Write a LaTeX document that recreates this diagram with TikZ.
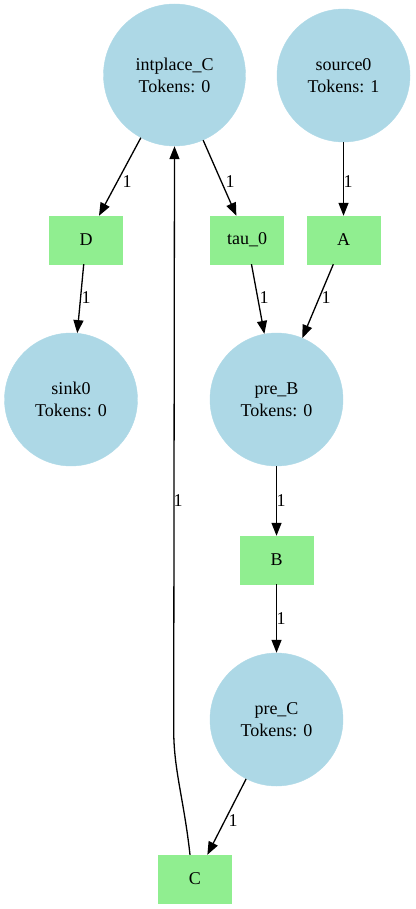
\documentclass[tikz,border=0pt]{standalone}
\usepackage{fontspec}
\setmainfont{Liberation Serif}
\usetikzlibrary{arrows.meta}
\definecolor{placeblue}{HTML}{ADD8E6}
\definecolor{transgreen}{HTML}{90EE90}
\begin{document}
\begin{tikzpicture}[x=1pt,y=-1pt,
  place/.style={circle,fill=placeblue,draw=placeblue,minimum size=133pt,inner sep=0pt,align=center,font=\fontsize{18}{22}\selectfont},
  bigplace/.style={place,minimum size=142pt},
  trans/.style={rectangle,fill=transgreen,draw=transgreen,minimum width=73pt,minimum height=48pt,inner sep=0pt,font=\fontsize{18}{22}\selectfont},
  arc/.style={line width=1.3pt,-{Triangle[length=13pt,width=10pt]}},
  wlabel/.style={font=\fontsize{18}{22}\selectfont,inner sep=0pt}]
\useasboundingbox (0,0) rectangle (415,909);
\node[bigplace] (ic) at (174.5,75) {intplace\_C\\Tokens: 0};
\node[place] (src) at (343.5,75.5) {source0\\Tokens: 1};
\node[place] (sink) at (71,399.5) {sink0\\Tokens: 0};
\node[place] (preB) at (276.5,399.5) {pre\_B\\Tokens: 0};
\node[place] (preC) at (276.5,719.5) {pre\_C\\Tokens: 0};
\node[trans] (D) at (86,240) {D};
\node[trans] (tau) at (247,240) {tau\_0};
\node[trans] (A) at (343.5,240) {A};
\node[trans] (B) at (276.5,560) {B};
\node[trans] (C) at (195,879) {C};
\coordinate (k) at (173.7,730);
\draw[arc] (ic) -- (D);
\draw[arc] (ic) -- (tau);
\draw[arc] (src) -- (A);
\draw[arc] (D) -- (sink);
\draw[arc] (tau) -- (preB);
\draw[arc] (A) -- (preB);
\draw[arc] (preB) -- (B);
\draw[arc] (B) -- (preC);
\draw[arc] (preC) -- (C);
\draw[arc] ([xshift=-5pt]C.north) .. controls (184,800) and (173.7,770) .. (k) -- (ic.south);
\node[wlabel] (l1) at (127,182) {1};
\node[wlabel] (l2) at (230,182) {1};
\node[wlabel] (l3) at (348,182) {1};
\node[wlabel] (l4) at (86,298) {1};
\node[wlabel] (l5) at (264,298) {1};
\node[wlabel] (l6) at (326,298) {1};
\node[wlabel] (l7) at (281,501) {1};
\node[wlabel] (l8) at (281,619) {1};
\node[wlabel] (l9) at (233,821) {1};
\node[wlabel] (l10) at (178,501) {1};
\end{tikzpicture}
\end{document}
